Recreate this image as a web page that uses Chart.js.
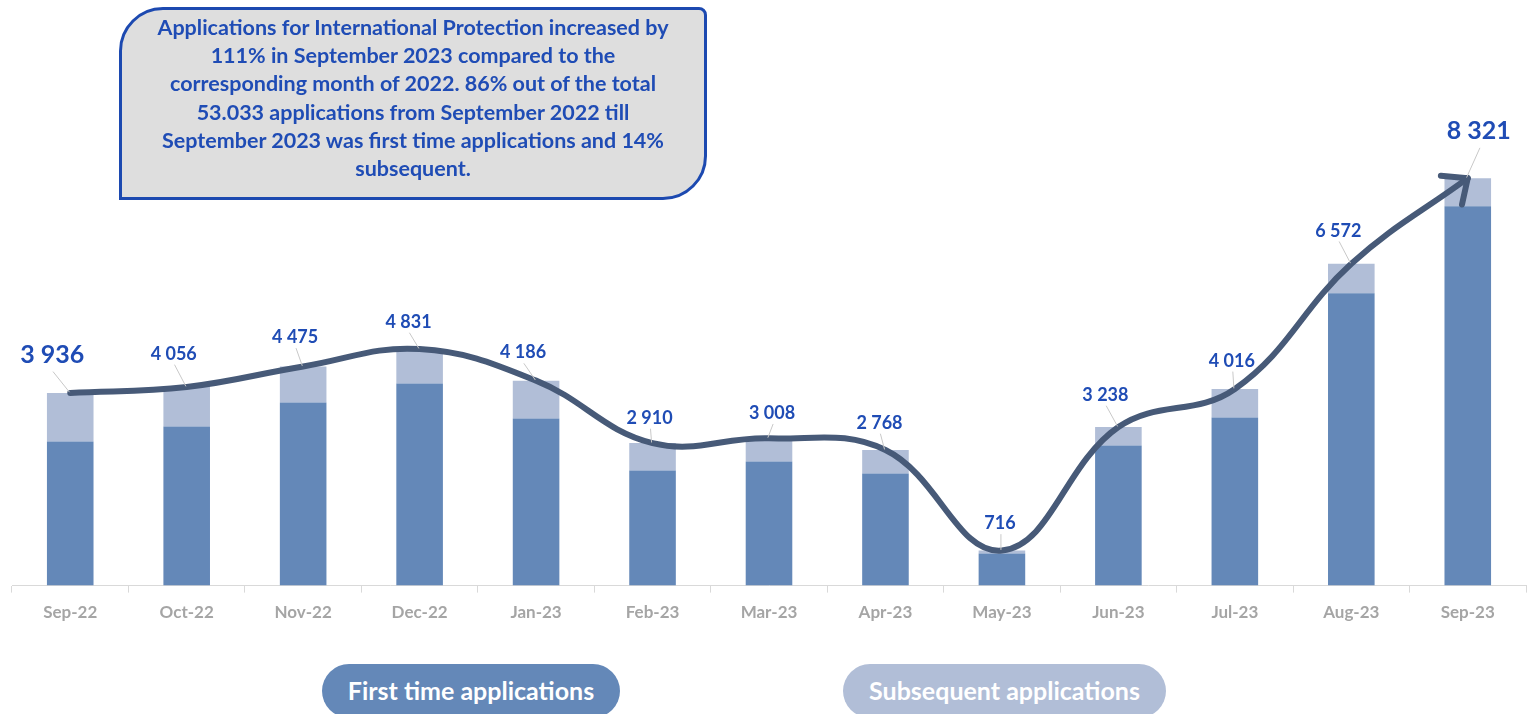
<!DOCTYPE html>
<html>
<head>
<meta charset="utf-8">
<script src="https://cdn.jsdelivr.net/npm/chart.js@4.4.1/dist/chart.umd.min.js"></script>
<style>
  body { margin: 0; background: #fff; font-family: Lato, "Open Sans", sans-serif; }
  #wrap { position: relative; width: 1527px; height: 714px; overflow: hidden; }
  #chart { position: absolute; left: 0; top: 0; }
  .note {
    position: absolute; left: 119px; top: 7px; width: 582px; height: 184px;
    background: #dedede; border: 3px solid #1c49b0;
    border-radius: 44px 8px 44px 0;
    color: #1f4cb5; font-weight: bold; font-size: 21.5px; line-height: 28.2px;
    text-align: center; box-sizing: content-box; padding-top: 3px;
  }
  .pill {
    position: absolute; top: 664px; height: 54px; border-radius: 27px;
    color: #fff; font-weight: bold; font-size: 25px; line-height: 52px; text-align: center;
  }
  .pill.first { left: 322px; width: 298px; background: #6488b8; }
  .pill.sub { left: 843px; width: 323px; background: #b1bed7; }
</style>
</head>
<body>
<div id="wrap">
  <canvas id="chart" width="1527" height="714"></canvas>
  <div class="note">
    Applications for International Protection increased by<br>
    111% in September 2023 compared to the<br>
    corresponding month of 2022. 86% out of the total<br>
    53.033 applications from September 2022 till<br>
    September 2023 was first time applications and 14%<br>
    subsequent.
  </div>
  <div class="pill first">First time applications</div>
  <div class="pill sub">Subsequent applications</div>
</div>
<script>
const months = ['Sep-22', 'Oct-22', 'Nov-22', 'Dec-22', 'Jan-23', 'Feb-23', 'Mar-23',
                'Apr-23', 'May-23', 'Jun-23', 'Jul-23', 'Aug-23', 'Sep-23'];
const firstTime = [2944, 3251, 3742, 4130, 3414, 2351, 2535, 2290, 654, 2862, 3435, 5970, 7749];
const subsequent = [992, 805, 733, 701, 772, 559, 473, 478, 62, 376, 581, 602, 572];
const totals = [3936, 4056, 4475, 4831, 4186, 2910, 3008, 2768, 716, 3238, 4016, 6572, 8321];

// where each total label sits relative to its point on the trend line
const labelShift = [[-18, -38], [-13, -33], [-8, -29], [-11, -27], [-13, -28], [-3, -25], [3, -25],
                    [-6, -27], [-2, -27], [-13, -32], [-3, -28], [-13, -33], [11, -47]];

const fmt = (n) => n.toString().replace(/\B(?=(\d{3})+(?!\d))/g, ' ');

/**
 * Draws the arrow head at the end of the trend line and
 * the total labels with their small leader lines
 */
const totalsPlugin = {
    id: 'totals',
    afterDatasetsDraw(chart) {
        const ctx = chart.ctx;
        const pts = chart.getDatasetMeta(2).data;
        const last = pts[pts.length - 1];
        const prev = pts[pts.length - 2];

        let bx = last.cp1x, by = last.cp1y;
        if (bx === undefined || (bx === last.x && by === last.y)) {
            bx = prev.x; by = prev.y;
        }
        const ang = Math.atan2(last.y - by, last.x - bx);

        ctx.save();
        ctx.strokeStyle = '#475a78';
        ctx.lineWidth = 6;
        ctx.lineCap = 'round';
        ctx.beginPath();
        [0.72, -0.72].forEach((a) => {
            ctx.moveTo(last.x, last.y);
            ctx.lineTo(last.x - 27 * Math.cos(ang + a), last.y - 27 * Math.sin(ang + a));
        });
        ctx.stroke();

        ctx.textAlign = 'center';
        ctx.textBaseline = 'middle';
        for (let i = 0; i < pts.length; i++) {
            const p = pts[i];
            const lx = p.x + labelShift[i][0];
            const ly = p.y + labelShift[i][1];
            const big = (i === 0 || i === pts.length - 1);

            ctx.strokeStyle = '#c8c8c8';
            ctx.lineWidth = 1;
            ctx.beginPath();
            ctx.moveTo(lx + 1, ly + (big ? 17 : 11));
            ctx.lineTo(p.x - 1, p.y - 1);
            ctx.stroke();

            ctx.fillStyle = '#1f4cb5';
            ctx.font = 'bold ' + (big ? 25 : 18) + 'px Lato';
            ctx.fillText(fmt(totals[i]), lx, ly);
        }
        ctx.restore();
    }
};

const chartConfig = {
    type: 'bar',
    data: {
        labels: months,
        datasets: [
            {
                label: 'First time applications',
                data: firstTime,
                backgroundColor: '#6488b8',
                stack: 'apps',
                order: 2
            },
            {
                label: 'Subsequent applications',
                data: subsequent,
                backgroundColor: '#b1bed7',
                stack: 'apps',
                order: 2
            },
            {
                type: 'line',
                label: 'Total',
                data: totals,
                borderColor: '#475a78',
                borderWidth: 6,
                borderCapStyle: 'round',
                tension: 0.4,
                pointRadius: 0,
                fill: false,
                stack: 'trend',
                order: 1
            }
        ]
    },
    options: {
        responsive: false,
        animation: false,
        layout: { padding: { top: 47, left: 12, right: 1, bottom: 81 } },
        datasets: { bar: { categoryPercentage: 1, barPercentage: 0.4 } },
        plugins: { legend: { display: false }, tooltip: { enabled: false } },
        scales: {
            x: {
                stacked: true,
                offset: true,
                grid: { display: true, drawOnChartArea: false, drawTicks: true, tickLength: 7,
                        color: '#d9d9d9', offset: true },
                border: { display: true, color: '#d9d9d9' },
                ticks: { color: '#a5a5a5', padding: 10, font: { family: 'Lato', weight: 'bold', size: 17 } }
            },
            y: {
                stacked: true,
                display: false,
                min: 0,
                max: 11000
            }
        }
    },
    plugins: [totalsPlugin]
};

new Chart(document.getElementById('chart'), chartConfig);
</script>
</body>
</html>
